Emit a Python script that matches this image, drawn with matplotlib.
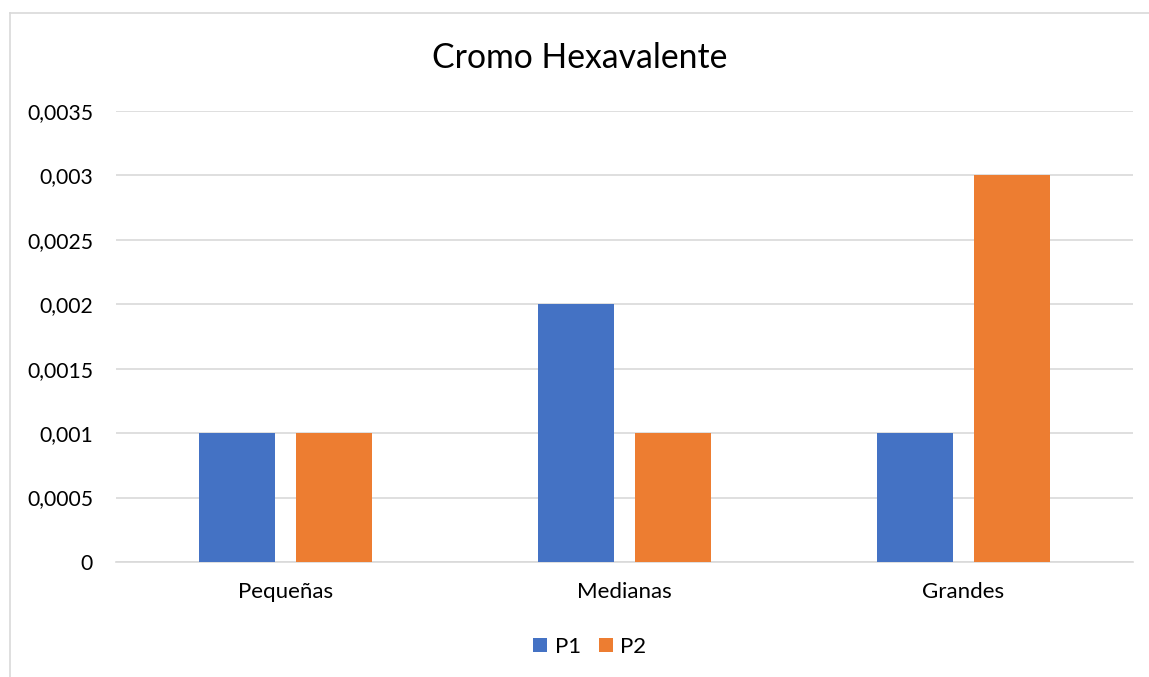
import numpy as np
import matplotlib
matplotlib.use("Agg")
import matplotlib.pyplot as plt
from matplotlib.lines import Line2D
from matplotlib.ticker import FuncFormatter

# ── data ─────────────────────────────────────────────
categories = ["Pequeñas", "Medianas", "Grandes"]
p1_values = [0.001, 0.002, 0.001]
p2_values = [0.001, 0.001, 0.003]
series_names = ["P1", "P2"]
y_ticks = [0, 0.0005, 0.001, 0.0015, 0.002, 0.0025, 0.003, 0.0035]

BLUE = "#4472C4"
ORANGE = "#ED7D31"
GRID = "#D9D9D9"
TEXT = "#000000"

plt.rcParams["font.family"] = ["Lato", "DejaVu Sans"]

W, H = 1149, 677
fig = plt.figure(figsize=(W / 100, H / 100), dpi=100)

# chart frame (only left/top edges visible in the crop)
fig.add_artist(Line2D([9.5 / W, 9.5 / W], [0, 1 - 12.5 / H], color=GRID, lw=1.2))
fig.add_artist(Line2D([9.5 / W, 1], [1 - 12.5 / H, 1 - 12.5 / H], color=GRID, lw=1.2))

ax = fig.add_axes([116 / W, (H - 562) / H, (1133 - 116) / W, (562 - 111) / H])

x = np.arange(len(categories))
bw = 0.224
off = 0.143
ax.bar(x - off, p1_values, bw, color=BLUE, label=series_names[0], zorder=3)
ax.bar(x + off, p2_values, bw, color=ORANGE, label=series_names[1], zorder=3)

ax.set_xlim(-0.5, len(categories) - 0.5)
ax.set_ylim(0, 0.0035)
ax.set_yticks(y_ticks)
ax.yaxis.set_major_formatter(FuncFormatter(lambda v, p: f"{v:g}".replace(".", ",")))
ax.set_xticks(x)
ax.set_xticklabels(categories)

ax.grid(axis="y", color=GRID, lw=1.2, zorder=0)
for s in ["top", "right", "left"]:
    ax.spines[s].set_visible(False)
ax.spines["bottom"].set_color(GRID)
ax.spines["bottom"].set_linewidth(1.2)
ax.tick_params(axis="both", length=0, colors=TEXT)
ax.tick_params(axis="y", pad=16.5, labelsize=15.2)
ax.tick_params(axis="x", pad=14.5, labelsize=16)

fig.text(580 / W, 1 - 58 / H, "Cromo Hexavalente", ha="center", va="center",
         fontsize=24.3, color=TEXT)

fig.legend(loc="center", bbox_to_anchor=(590 / W, 1 - 647 / H), ncol=2,
           frameon=False, fontsize=16, handlelength=0.62, handleheight=0.62,
           handletextpad=0.35, columnspacing=0.8)

fig.savefig("out.png", dpi=100, facecolor="white")
